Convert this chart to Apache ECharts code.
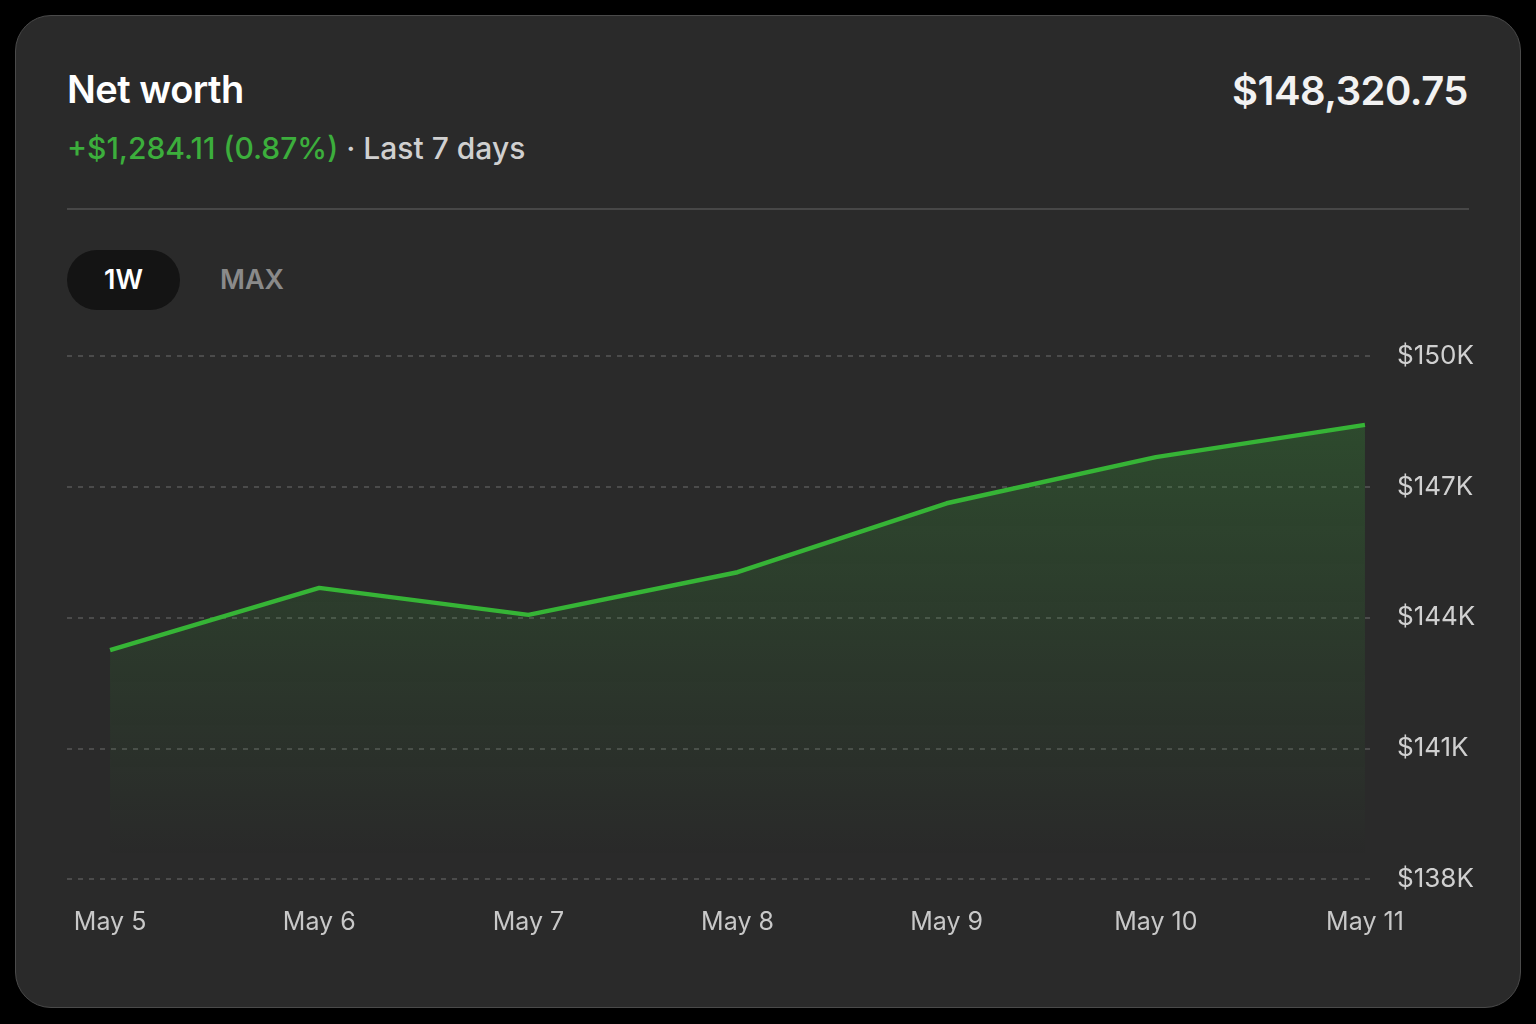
<!DOCTYPE html>
<html>
<head>
<meta charset="utf-8">
<script src="https://cdn.jsdelivr.net/npm/echarts@6/dist/echarts.min.js"></script>
<style>
  html, body { margin: 0; padding: 0; background: #000; }
  body { width: 1536px; height: 1024px; position: relative; overflow: hidden; font-family: Inter, "Noto Sans", sans-serif; }
  .card {
    position: absolute; left: 15px; top: 15px; width: 1506px; height: 993px;
    background: #2a2a2a; border: 1.5px solid #4a4a4a; border-radius: 36px; box-sizing: border-box;
  }
  .title { position: absolute; left: 67px; top: 66px; font-size: 38px; font-weight: 600; color: #fff; letter-spacing: -0.5px; }
  .total { position: absolute; right: 68px; top: 66px; font-size: 40px; font-weight: 600; color: #f2f2f2; letter-spacing: -0.5px; }
  .sub { position: absolute; left: 67px; top: 130px; font-size: 30px; font-weight: 500; color: #d0d0d0; }
  .sub .up { color: #3cae3c; }
  .divider { position: absolute; left: 67px; top: 208px; width: 1402px; height: 2px; background: #474747; }
  .pill { position: absolute; left: 67px; top: 250px; width: 113px; height: 60px; border-radius: 30px; background: #141414;
          color: #fff; font-size: 27px; font-weight: 600; line-height: 60px; text-align: center; }
  .tab { position: absolute; left: 220px; top: 250px; height: 60px; line-height: 60px; font-size: 27px; font-weight: 600; color: #8a8a8a; }
  #chart { position: absolute; left: 0; top: 0; width: 1536px; height: 1024px; }
</style>
</head>
<body>
<div class="card"></div>
<div class="title">Net worth</div>
<div class="total">$148,320.75</div>
<div class="sub"><span class="up">+$1,284.11 (0.87%)</span> · Last 7 days</div>
<div class="divider"></div>
<div class="pill">1W</div>
<div class="tab">MAX</div>
<div id="chart"></div>
<script>
  // data
  const days = ["May 5", "May 6", "May 7", "May 8", "May 9", "May 10", "May 11"];
  const netWorth = [143250, 144680, 144060, 145040, 146620, 147680, 148420];

  const chart = echarts.init(document.getElementById("chart"));

  const option = {
    backgroundColor: "transparent",
    animation: false,
    grid: { left: 67, right: 161, top: 356, bottom: 145 },
    xAxis: {
      type: "value",
      min: -0.206,
      max: 6.048,
      axisLine: { show: false },
      axisTick: { show: false },
      splitLine: { show: false },
      axisLabel: {
        customValues: days.map((d, i) => i),
        formatter: (v) => days[Math.round(v)],
        color: "#c8c8c8",
        fontSize: 25,
        fontFamily: "Inter",
        margin: 31,
      },
    },
    yAxis: {
      type: "value",
      position: "right",
      min: 138000,
      max: 150000,
      interval: 3000,
      axisLine: { show: false },
      axisTick: { show: false },
      axisLabel: {
        formatter: (v) => "$" + v / 1000 + "K",
        color: "#d0d0d0",
        fontSize: 26,
        fontFamily: "Inter",
        margin: 22,
        padding: [8, 0, 0, 0],
      },
      splitLine: {
        lineStyle: { color: "#575757", type: [5, 6], width: 1.5 },
      },
    },
    series: [
      {
        type: "line",
        data: netWorth.map((v, i) => [i, v]),
        symbol: "none",
        lineStyle: { color: "#36b436", width: 4.5 },
        areaStyle: {
          color: new echarts.graphic.LinearGradient(0, 0, 0, 1, [
            { offset: 0, color: "rgba(58, 170, 58, 0.36)" },
            { offset: 0.5, color: "rgba(58, 170, 58, 0.16)" },
            { offset: 0.95, color: "rgba(58, 170, 58, 0.0)" },
          ]),
        },
      },
    ],
  };

  chart.setOption(option);
</script>
</body>
</html>
